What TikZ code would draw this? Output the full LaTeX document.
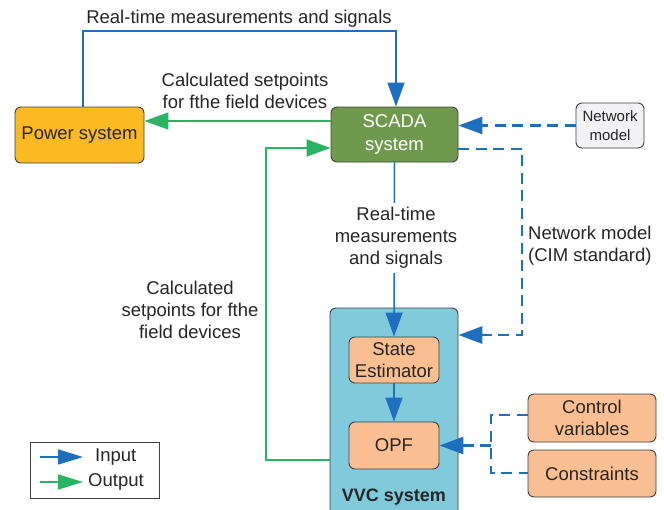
\documentclass[tikz,border=0pt]{standalone}
\usepackage{fontspec}
\setmainfont{Liberation Sans}
\usetikzlibrary{arrows.meta}
\definecolor{myblue}{HTML}{1F6FBF}
\definecolor{mygreen}{HTML}{28B462}
\definecolor{powerfill}{HTML}{FBBA22}
\definecolor{scadafill}{HTML}{6F9A4D}
\definecolor{vvcfill}{HTML}{80CADB}
\definecolor{peach}{HTML}{F9BE91}
\definecolor{netfill}{HTML}{F2F2F4}
\definecolor{bordergray}{HTML}{404040}
\definecolor{textgray}{HTML}{262626}
\begin{document}
\begin{tikzpicture}[x=1pt,y=-1pt,
  box/.style={draw=bordergray, line width=0.9pt, rounded corners=6pt, align=center,
    text=textgray, font=\fontsize{18.5}{22.5}\selectfont, inner sep=0pt},
  lbl/.style={align=center, text=textgray, font=\fontsize{18.5}{22}\selectfont, inner sep=1pt},
  tipA/.style={-{Triangle[length=24pt,width=17pt]}},
  inarrow/.style={draw=myblue, line width=1.5pt, tipA},
  outarrow/.style={draw=mygreen, line width=1.5pt, tipA},
  dashline/.style={draw=myblue, line width=2.9pt, dash pattern=on 11pt off 6.5pt},
  indash/.style={dashline, tipA}]
\clip (0,0) rectangle (664,509);
\fill[white] (0,0) rectangle (664,509);

% nodes
\node[box, fill=powerfill, minimum width=129pt, minimum height=56pt] (power) at (79.5,135) {Power system};
\node[box, fill=scadafill, text=white, minimum width=127pt, minimum height=55pt] (scada) at (394.5,134.5) {SCADA\\system};
\node[box, fill=netfill, minimum width=68pt, minimum height=45pt, font=\fontsize{15}{19}\selectfont] (netmod) at (610,125.5) {Network\\model};
\node[box, fill=vvcfill, minimum width=128pt, minimum height=214pt] (vvc) at (394,415) {};
\node[text=textgray, font=\bfseries\fontsize{18}{22}\selectfont, inner sep=0pt] (vvclabel) at (394,497.5) {VVC system};
\node[box, fill=peach, minimum width=90pt, minimum height=46pt] (se) at (394,360) {State\\Estimator};
\node[box, fill=peach, minimum width=90pt, minimum height=47pt] (opf) at (394,445.5) {OPF};
\node[box, fill=peach, minimum width=128pt, minimum height=48pt] (ctrl) at (592,418) {Control\\variables};
\node[box, fill=peach, minimum width=128pt, minimum height=47pt] (cons) at (592,473.5) {Constraints};

% coordinates
\coordinate (t1) at (83,31);
\coordinate (t2) at (396,31);
\coordinate (s1) at (0,121);
\coordinate (d1) at (522,149);
\coordinate (d2) at (522,335);
\coordinate (g1) at (266,460);
\coordinate (g2) at (266,148);
\coordinate (j1) at (491,415);
\coordinate (j2) at (491,473);

% connectors
\draw[inarrow] (power.north -| t1) -- (t1) -- (t2) -- (scada.north -| t2);
\draw[outarrow] (scada.west |- s1) -- (power.east |- s1);
\draw[indash] (netmod.west) -- (scada.east |- netmod.west);
\draw[indash] (scada.east |- d1) -- (d1) -- (d2) -- (vvc.east |- d2);
\draw[inarrow] (scada.south) -- (se.north);
\draw[inarrow] (se.south) -- (opf.north);
\draw[outarrow] (vvc.west |- g1) -- (g1) -- (g2) -- (scada.west |- g2);
\draw[dashline] (ctrl.west |- j1) -- (j1) -- (j2) -- (cons.west |- j2);
\draw[indash] (j1 |- opf.east) -- (opf.east);

% labels
\node[lbl] (ltop) at (239,19) {Real-time measurements and signals};
\node[lbl] (lcalc1) at (245,91) {Calculated setpoints\\for fthe field devices};
\node[lbl] (lcalc2) at (190,309.5) {Calculated\\setpoints for fthe\\field devices};
\node[lbl, align=left, anchor=west] (lnet) at (527,245.5) {Network model\\(CIM standard)};
\node[lbl, fill=white, inner sep=4pt] (lrtm) at (396,238) {Real-time\\measurements\\and signals};

% legend
\node[draw=bordergray, line width=0.9pt, minimum width=129pt, minimum height=56pt, inner sep=0pt] (legend) at (94.5,470) {};
\coordinate (li1) at (40,457);
\coordinate (li2) at (83,457);
\coordinate (lo1) at (40,482);
\coordinate (lo2) at (83,482);
\draw[draw=myblue, line width=1.5pt, -{Triangle[length=25pt,width=15pt]}] (li1) -- (li2);
\draw[draw=mygreen, line width=1.5pt, -{Triangle[length=25pt,width=15pt]}] (lo1) -- (lo2);
\node[lbl, anchor=west] (lin) at (94,457) {Input};
\node[lbl, anchor=west] (lout) at (87,482) {Output};
\end{tikzpicture}
\end{document}
